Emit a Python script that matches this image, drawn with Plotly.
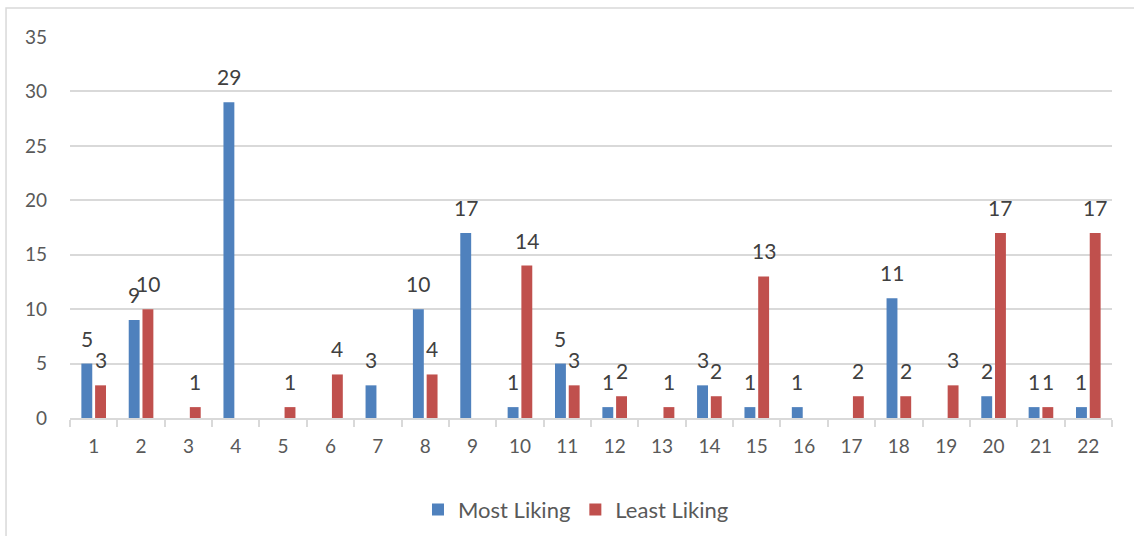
import plotly.graph_objects as go

categories = [str(i) for i in range(1, 23)]
most_liking = [5, 9, 0, 29, 0, 0, 3, 10, 17, 1, 5, 1, 0, 3, 1, 1, 0, 11, 0, 2, 1, 1]
least_liking = [3, 10, 1, 0, 1, 4, 0, 4, 0, 14, 3, 2, 1, 2, 13, 0, 2, 2, 3, 17, 1, 17]
y_ticks = [0, 5, 10, 15, 20, 25, 30, 35]

BLUE = "#4f81bd"
RED = "#c0504d"
FONT = "Lato, 'Open Sans', sans-serif"

BAR_W = 0.23
OFFSETS = {"Most Liking": -0.26, "Least Liking": 0.03}
SERIES = [("Most Liking", most_liking, BLUE), ("Least Liking", least_liking, RED)]

fig = go.Figure()
for name, vals, color in SERIES:
    fig.add_trace(go.Bar(
        x=categories, y=vals, name=name,
        marker=dict(color=color, line=dict(width=0)),
        width=BAR_W, offset=OFFSETS[name],
    ))

# value labels above each non-zero bar (x given as category index)
annotations = []
for name, vals, _ in SERIES:
    centre = OFFSETS[name] + BAR_W / 2
    for i, v in enumerate(vals):
        if v:
            annotations.append(dict(
                x=i + centre, y=v, xref="x", yref="y", text=str(v),
                showarrow=False, xanchor="center", yanchor="bottom",
                yshift=11,
                font=dict(size=21, color="#404040", family=FONT),
            ))

fig.update_layout(
    width=1134, height=536,
    margin=dict(l=70, r=22, t=37, b=118, autoexpand=False),
    paper_bgcolor="white", plot_bgcolor="white",
    font=dict(family=FONT, size=19, color="#595959"),
    barmode="group",
    showlegend=True,
    legend=dict(
        orientation="h", x=0.4856, xanchor="center", y=-0.241, yanchor="middle",
        font=dict(size=22, color="#595959"),
        traceorder="normal",
    ),
    xaxis=dict(
        type="category", showgrid=False,
        range=[-0.5, len(categories) - 0.5],
        showline=True, linecolor="#d9d9d9", linewidth=2,
        ticks="outside", tickson="boundaries", ticklen=7,
        tickcolor="#d9d9d9", tickwidth=2,
        ticklabelstandoff=10,
        tickfont=dict(size=19, color="#595959"),
    ),
    yaxis=dict(
        range=[0, 35], tickvals=y_ticks,
        showgrid=True, gridcolor="#d9d9d9", gridwidth=1.5,
        zeroline=False, showline=False,
        ticks="", ticklabelstandoff=22,
        tickfont=dict(size=19, color="#595959"),
    ),
    annotations=annotations,
    shapes=[dict(
        type="rect", xref="paper", yref="paper",
        x0=-0.0614, x1=1.03, y0=-0.35, y1=1.076,
        line=dict(color="#d9d9d9", width=1.5), fillcolor="rgba(0,0,0,0)",
        layer="below",
    )],
)

fig.write_html("out.html")
